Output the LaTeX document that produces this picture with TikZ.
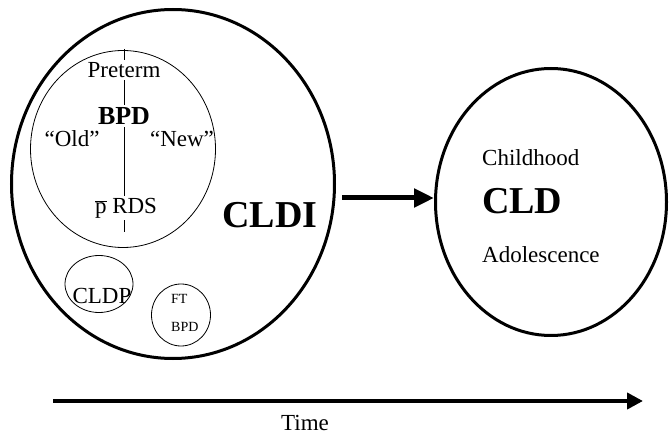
\documentclass[tikz,border=0pt]{standalone}
\usepackage{fontspec}
\setmainfont{Liberation Serif}
\usetikzlibrary{shapes.geometric,arrows.meta}

\tikzset{
  bigoval/.style={draw,ellipse,line width=3pt,inner sep=0pt},
  thinoval/.style={draw,ellipse,line width=0.8pt,inner sep=0pt},
  lbl/.style={font=\fontsize{23}{25}\selectfont,inner sep=2pt},
  tinylbl/.style={font=\fontsize{14}{16}\selectfont,inner sep=0pt},
  biglbl/.style={font=\bfseries\fontsize{38}{40}\selectfont,inner sep=0pt},
  heavyarrow/.style={-{Triangle[length=20pt,width=18pt]},line width=5pt},
  timearrow/.style={-{Triangle[length=16pt,width=16pt]},line width=4pt}
}

\begin{document}
\begin{tikzpicture}[x=1pt,y=1pt]

	\useasboundingbox (0,0) rectangle (670,437);

%	left oval
	\node (cldi) at (173,253) [bigoval,minimum width=323pt,minimum height=349pt] {};
	\node (cldilbl) at (270,222) [biglbl] {CLDI};

	\node (bpdoval) at (123,288) [thinoval,minimum width=185pt,minimum height=197pt] {};
	\coordinate (axtop) at (124,388);
	\coordinate (axbot) at (124,205);
	\draw[line width=0.6pt] (axtop) -- (axbot);
	\node (preterm) at (124,367) [lbl,fill=white] {Preterm};
	\node (bpd) at (124,321) [lbl,fill=white,font=\bfseries\fontsize{26}{28}\selectfont] {BPD};
	\node (old) at (72,298) [lbl] {``Old''};
	\node (new) at (182,298) [lbl] {``New''};
	\node (rds) at (126,229) [lbl,fill=white] {$\overline{\mbox{p}}$ RDS};

	\node (cldpoval) at (99,153) [thinoval,minimum width=68pt,minimum height=57pt] {};
	\node (cldp) at (102,141) [lbl,inner sep=0pt] {CLDP};

	\node (ftoval) at (181,122) [thinoval,minimum width=59pt,minimum height=62pt] {};
	\node (ft) at (171,138) [tinylbl,anchor=west] {FT};
	\node (ftbpd) at (171,110) [tinylbl,anchor=west] {BPD};

%	right oval
	\node (cld) at (551,235) [bigoval,minimum width=231pt,minimum height=267pt] {};
	\node (child) at (482,279) [lbl,anchor=west,inner sep=0pt] {Childhood};
	\node (cldlbl) at (482,236) [biglbl,anchor=west] {CLD};
	\node (adol) at (482,182) [lbl,anchor=west,inner sep=0pt] {Adolescence};

	\coordinate (go) at (342,239);
	\draw[heavyarrow] (go) -- (go -| cld.west);

%	time axis
	\coordinate (tstart) at (53,36);
	\coordinate (tend) at (643,36);
	\draw[timearrow] (tstart) -- (tend);
	\node (time) at (305,14) [lbl] {Time};

\end{tikzpicture}
\end{document}
